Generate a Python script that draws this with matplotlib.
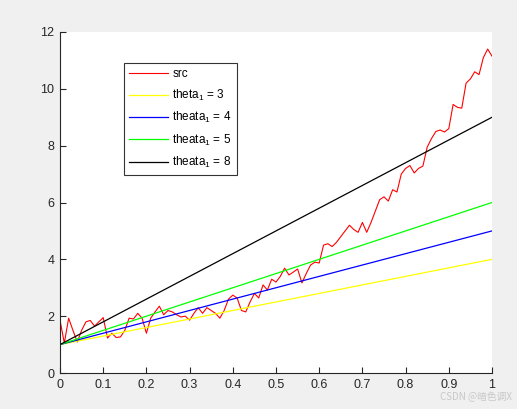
import numpy as np
import matplotlib
matplotlib.use("Agg")
import matplotlib.pyplot as plt

# ---- data ----
x = np.linspace(0, 1, 101)
src = [1.86, 1.05, 1.93, 1.5, 1.09, 1.5, 1.8, 1.85, 1.65, 1.8,
       1.95, 1.23, 1.4, 1.25, 1.27, 1.5, 1.93, 1.9, 2.1, 1.93,
       1.4, 1.93, 2.15, 2.35, 2.05, 2.2, 2.15, 2.05, 1.97, 2.0,
       1.86, 2.1, 2.3, 2.1, 2.3, 2.2, 2.1, 1.93, 2.2, 2.6,
       2.74, 2.64, 2.2, 2.15, 2.5, 2.8, 2.64, 3.1, 2.92, 3.3,
       3.2, 3.4, 3.69, 3.45, 3.55, 3.66, 3.17, 3.5, 3.8, 3.9,
       3.87, 4.5, 4.55, 4.45, 4.6, 4.8, 5.0, 5.2, 5.05, 4.95,
       5.3, 4.95, 5.3, 5.7, 6.1, 6.2, 6.05, 6.45, 6.37, 7.0,
       7.2, 7.3, 7.04, 7.2, 7.28, 7.95, 8.25, 8.5, 8.55, 8.48,
       8.6, 9.45, 9.35, 9.32, 10.2, 10.35, 10.6, 10.5, 11.1, 11.4,
       11.15]
thetas = [3, 4, 5, 8]
intercept = 1
labels = ["src", "theta$_1$ = 3", "theata$_1$ = 4", "theata$_1$ = 5", "theata$_1$ = 8"]
colors = ["#ff0000", "#ffff00", "#0000ff", "#00ff00", "#000000"]
xticks = [0, 0.1, 0.2, 0.3, 0.4, 0.5, 0.6, 0.7, 0.8, 0.9, 1]
xticklabels = ["0", "0.1", "0.2", "0.3", "0.4", "0.5", "0.6", "0.7", "0.8", "0.9", "1"]
yticks = [0, 2, 4, 6, 8, 10, 12]

plt.rcParams['font.family'] = ['Liberation Sans', 'DejaVu Sans']
plt.rcParams['mathtext.fontset'] = 'custom'
plt.rcParams['mathtext.rm'] = 'Liberation Sans'
plt.rcParams['mathtext.it'] = 'Liberation Sans'
plt.rcParams['mathtext.default'] = 'regular'

fig = plt.figure(figsize=(5.17, 4.09), dpi=100, facecolor="#f0f0f0")
ax = fig.add_axes([60/517, 1-373/409, 432/517, 341/409])
ax.set_facecolor("white")

ax.plot(x, src, color=colors[0], lw=0.8, label=labels[0])
for th, c, lab in zip(thetas, colors[1:], labels[1:]):
    ax.plot(x, intercept + th * x, color=c, lw=0.9, label=lab)

ax.set_xlim(0, 1)
ax.set_ylim(0, 12)
ax.set_xticks(xticks)
ax.set_xticklabels(xticklabels)
ax.set_yticks(yticks)
for s in ["top", "right"]:
    ax.spines[s].set_visible(False)
for s in ["left", "bottom"]:
    ax.spines[s].set_color("#262626")
    ax.spines[s].set_linewidth(0.8)
ax.tick_params(direction="in", length=4, width=0.8, colors="#262626",
               labelsize=9, pad=4)

leg = ax.legend(loc="upper left", bbox_to_anchor=(0.148, 0.909),
                frameon=True, fancybox=False, fontsize=8.5,
                handlelength=3.3, borderaxespad=0, borderpad=0.45,
                labelspacing=0.62, handletextpad=0.35)
leg.get_frame().set_edgecolor("black")
leg.get_frame().set_linewidth(0.8)

fig.text(0.99, 0.018, "CSDN @暗色调X", ha="right", va="bottom", fontsize=7,
         color="#c8c8c8", family=["Noto Sans CJK SC", "DejaVu Sans"])

fig.savefig("out.png", dpi=100, facecolor=fig.get_facecolor())
